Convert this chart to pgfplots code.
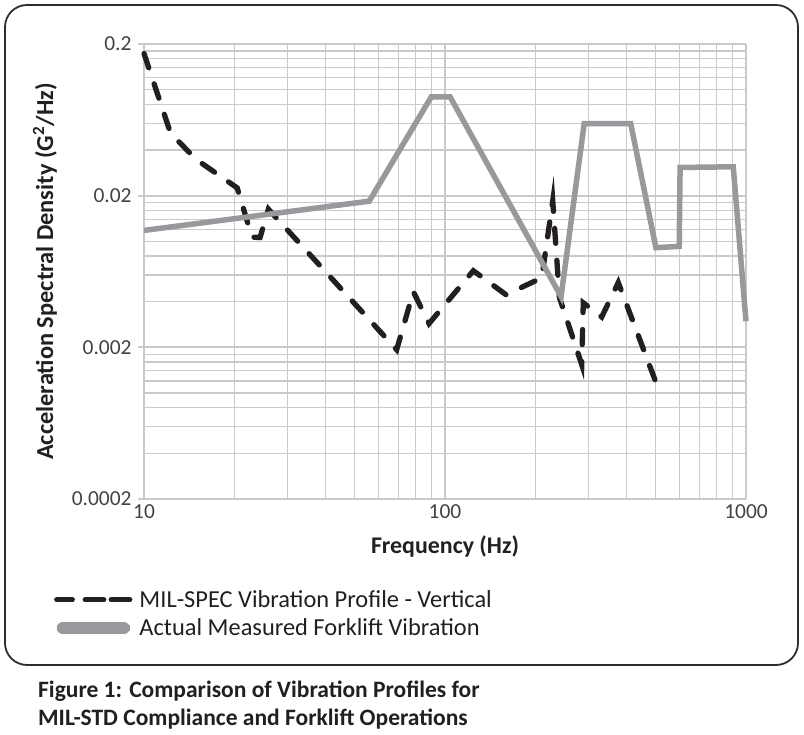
\documentclass[border=0pt]{standalone}
\usepackage{fontspec}
\setmainfont{Carlito}
\usepackage{pgfplots}
\pgfplotsset{compat=1.18}
\definecolor{txt}{RGB}{35,31,32}
\definecolor{grayline}{RGB}{152,153,156}
\definecolor{gridc}{RGB}{202,202,204}
\definecolor{framec}{RGB}{45,45,45}
\begin{document}
\begin{tikzpicture}
\path[use as bounding box] (-144bp,499bp) rectangle (660bp,-236bp);
\begin{axis}[
  at={(0bp,0bp)}, anchor=south west,
  scale only axis, width=602bp, height=455bp,
  xmode=log, ymode=log,
  xmin=10, xmax=1000, ymin=0.0002, ymax=0.2,
  xtick={10,100,1000}, xticklabels={10,100,1000},
  ytick={0.0002,0.002,0.02,0.2}, yticklabels={0.0002,0.002,0.02,0.2},
  minor xtick={20,30,40,50,60,70,80,90,200,300,400,500,600,700,800,900},
  minor ytick={0.0004,0.0006,0.0008,0.001,0.0012,0.0014,0.0016,0.0018,
               0.004,0.006,0.008,0.01,0.012,0.014,0.016,0.018,
               0.04,0.06,0.08,0.1,0.12,0.14,0.16,0.18},
  grid=both,
  major grid style={gridc, line width=1.8bp},
  minor grid style={gridc, line width=1.2bp},
  axis lines*=left,
  axis line style={gridc, line width=2.6bp},
  tick align=inside, major tick length=6bp, minor tick length=0pt,
  xtick style={draw=none},
  ytick style={gridc, line width=2bp, xshift=-6bp},
  /pgf/number format/assume math mode=true,
  ticklabel style={font=\fontsize{21.5}{24}\selectfont, text=txt!85},
  yticklabel style={xshift=-9bp},
  xticklabel style={yshift=-2bp},
  xlabel={Frequency (Hz)},
  ylabel={Acceleration Spectral Density (G\textsuperscript{2}/Hz)},
  xlabel style={at={(axis description cs:0.5,-0.1033)}, anchor=center, font=\fontsize{24}{28}\selectfont\bfseries, text=txt},
  ylabel style={at={(axis description cs:-0.1645,0.5)}, anchor=center, font=\fontsize{24.5}{28}\selectfont\bfseries, text=txt},
  clip=false,
  legend cell align=left,
  legend style={draw=none, fill=none, inner sep=0pt, outer sep=0pt,
    font=\fontsize{24.5}{28}\selectfont, text=txt,
    column sep=7bp, row sep=10bp, nodes={inner sep=0pt},
    at={(axis description cs:-0.1495,-0.2527)}, anchor=west},
]
\addplot[color=txt, line width=5.3bp, dash pattern=on 15bp off 17bp, line cap=round, line join=miter, miter limit=25,
  legend image code/.code={\path (0bp,0bp) -- (73bp,0bp); \draw[color=txt, line width=5.3bp, line cap=round, dash pattern=on 13bp off 13bp] (2.5bp,0bp) -- (71bp,0bp);}]
coordinates {
(10,0.173) (12.27,0.0513) (14.96,0.0345) (20.4,0.0225) (22.85,0.01065) (24.3,0.0106)
(25.9,0.0163) (69.1,0.00193) (78.5,0.00465) (88.5,0.00287) (124.2,0.0064) (159.4,0.00445)
(209.6,0.00574) (228,0.0185) (240,0.00425) (284.6,0.00154) (288,0.00393) (331.6,0.00317)
(376.5,0.00535) (498.5,0.00122)
};
\addlegendentry{MIL-SPEC Vibration Profile - Vertical}
\addplot[color=grayline, line width=5.5bp, line join=miter,
  legend image code/.code={\path (0bp,0bp) -- (73bp,0bp); \draw[color=grayline, line width=12bp, line cap=round] (6bp,0bp) -- (67bp,0bp);}]
coordinates {
(10,0.0118) (56,0.0184) (90,0.0895) (104,0.0895) (243,0.00432) (290,0.0597) (414,0.0597)
(502,0.00908) (600,0.00926) (604,0.0307) (907,0.031) (1000,0.00297)
};
\addlegendentry{Actual Measured Forklift Vibration}
\end{axis}
\draw[line width=1.8bp, color=framec, rounded corners=22bp] (-139bp,494bp) rectangle (654bp,-166bp);
\node[anchor=base west, inner sep=0pt, font=\fontsize{23.6}{28}\selectfont\bfseries, text=txt] at (-106bp,-198bp) {Figure 1: Comparison of Vibration Profiles for};
\node[anchor=base west, inner sep=0pt, font=\fontsize{23.6}{28}\selectfont\bfseries, text=txt] at (-106bp,-226bp) {MIL-STD Compliance and Forklift Operations};
\end{tikzpicture}
\end{document}
